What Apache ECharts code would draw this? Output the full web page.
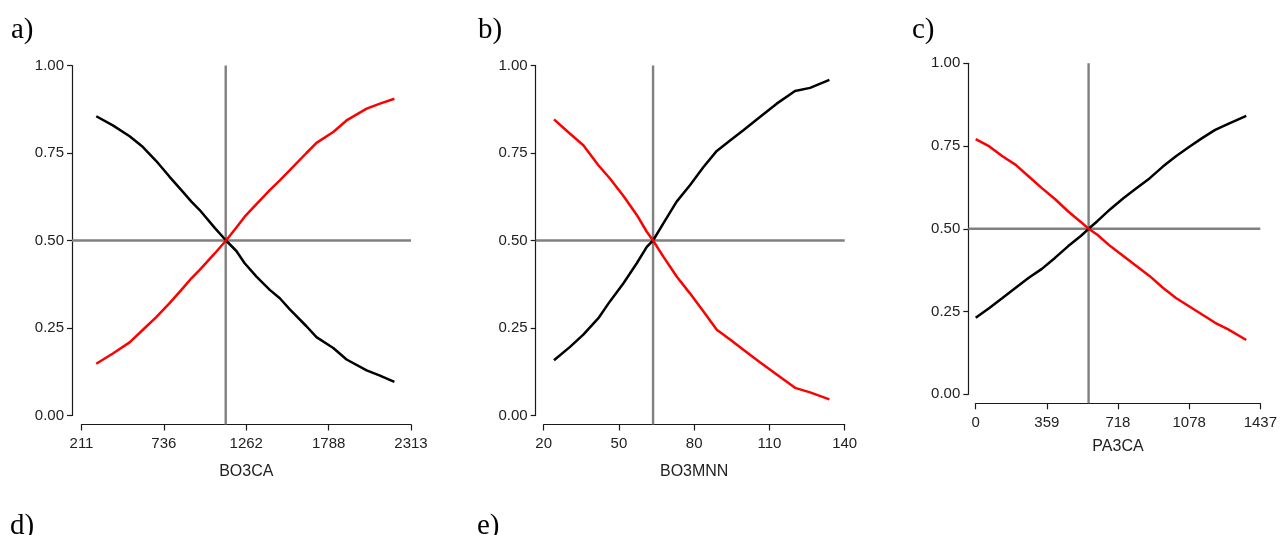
<!DOCTYPE html>
<html>
<head>
<meta charset="utf-8">
<script src="https://cdn.jsdelivr.net/npm/echarts@6/dist/echarts.min.js"></script>
<style>
html,body{margin:0;padding:0;background:#fff;}
#chart{width:1280px;height:535px;}
</style>
</head>
<body>
<div id="chart"></div>
<script>
// ---------- data ----------
const PANEL_LABELS = ['a)', 'b)', 'c)', 'd)', 'e)'];
const AXIS_NAMES = ['BO3CA', 'BO3MNN', 'PA3CA'];

const A_X_TICKS = [211, 736, 1262, 1788, 2313];
const B_X_TICKS = [20, 50, 80, 110, 140];
const C_X_TICKS = [0, 359, 718, 1078, 1437];
const Y_TICKS = [0, 0.25, 0.5, 0.75, 1];

const A_X = [305, 411, 518, 603, 688, 773, 858, 912, 965, 1061, 1133, 1199, 1252, 1327, 1412, 1476, 1540, 1646, 1710, 1817, 1902, 2030, 2115, 2207];
const A_BLACK = [0.855, 0.829, 0.798, 0.767, 0.727, 0.682, 0.639, 0.611, 0.587, 0.536, 0.500, 0.470, 0.435, 0.397, 0.359, 0.335, 0.303, 0.255, 0.224, 0.193, 0.160, 0.129, 0.114, 0.096];
const A_RED = [0.148, 0.177, 0.209, 0.245, 0.281, 0.321, 0.364, 0.392, 0.416, 0.463, 0.500, 0.537, 0.568, 0.604, 0.644, 0.672, 0.701, 0.750, 0.779, 0.810, 0.843, 0.877, 0.891, 0.905];

const B_X = [24.1, 30.5, 35.8, 41.8, 46.4, 51.8, 57.1, 61.1, 63.6, 67.7, 73.0, 78.3, 83.7, 89.0, 94.3, 99.6, 106.2, 112.9, 120.2, 126.2, 133.9];
const B_BLACK = [0.158, 0.196, 0.231, 0.278, 0.326, 0.378, 0.435, 0.482, 0.500, 0.549, 0.611, 0.658, 0.710, 0.756, 0.786, 0.815, 0.853, 0.891, 0.927, 0.936, 0.959];
const B_RED = [0.846, 0.805, 0.772, 0.715, 0.677, 0.627, 0.573, 0.525, 0.500, 0.454, 0.397, 0.349, 0.297, 0.245, 0.217, 0.188, 0.152, 0.117, 0.079, 0.066, 0.046];

const C_X = [0, 69, 135, 202, 268, 334, 400, 466, 532, 570, 614, 681, 747, 813, 879, 945, 1011, 1077, 1143, 1209, 1275, 1366];
const C_BLACK = [0.231, 0.261, 0.291, 0.322, 0.352, 0.379, 0.412, 0.447, 0.479, 0.500, 0.523, 0.560, 0.593, 0.623, 0.653, 0.688, 0.719, 0.747, 0.774, 0.799, 0.817, 0.841];
const C_RED = [0.771, 0.749, 0.719, 0.693, 0.658, 0.623, 0.590, 0.553, 0.520, 0.500, 0.482, 0.447, 0.417, 0.387, 0.357, 0.322, 0.291, 0.266, 0.241, 0.216, 0.196, 0.164];

const CUT_X = [1131, 63.6, 570];
const CUT_Y = 0.5;

// ---------- layout ----------
const LAYOUT = [
  {left: 81.5, top: 65.5, width: 329.5, height: 350, yOff: 9.5, xOff: 9, nameGap: 39},
  {left: 543.7, top: 65.5, width: 301, height: 350, yOff: 8, xOff: 9, nameGap: 39},
  {left: 975.7, top: 63.3, width: 291, height: 331, yOff: 7.4, xOff: 9, nameGap: 35}
];
const LABEL_POS = [
  {left: 11, top: 16}, {left: 478, top: 16}, {left: 912, top: 16},
  {left: 10, top: 512}, {left: 477, top: 512}
];

const panels = [
  {x: A_X, black: A_BLACK, red: A_RED, ticks: A_X_TICKS},
  {x: B_X, black: B_BLACK, red: B_RED, ticks: B_X_TICKS},
  {x: C_X, black: C_BLACK, red: C_RED, ticks: C_X_TICKS}
];

const FONT = 'Liberation Sans, Arial, sans-serif';
const zip = (xs, ys) => xs.map((v, i) => [v, ys[i]]);

const grid = [], xAxis = [], yAxis = [], series = [];
panels.forEach((p, i) => {
  const L = LAYOUT[i];
  grid.push({left: L.left, top: L.top, width: L.width, height: L.height, containLabel: false});
  xAxis.push({
    type: 'value', gridIndex: i,
    min: p.ticks[0], max: p.ticks[p.ticks.length - 1],
    offset: L.xOff,
    name: AXIS_NAMES[i], nameLocation: 'middle', nameGap: L.nameGap,
    nameTextStyle: {fontSize: 16, color: '#222', fontFamily: FONT},
    axisLine: {show: true, onZero: false, lineStyle: {color: '#1a1a1a', width: 1.2}},
    axisTick: {show: true, length: 6, lineStyle: {color: '#1a1a1a', width: 1.2}, customValues: p.ticks},
    axisLabel: {fontSize: 15, color: '#222', fontFamily: FONT, margin: 12, customValues: p.ticks,
      formatter: v => String(v)},
    splitLine: {show: false}
  });
  yAxis.push({
    type: 'value', gridIndex: i, min: 0, max: 1, interval: 0.25,
    offset: L.yOff,
    axisLine: {show: true, onZero: false, lineStyle: {color: '#1a1a1a', width: 1.2}},
    axisTick: {show: true, length: 5, lineStyle: {color: '#1a1a1a', width: 1.2}, customValues: Y_TICKS},
    axisLabel: {fontSize: 15, color: '#222', fontFamily: FONT, margin: 8, customValues: Y_TICKS,
      formatter: v => v.toFixed(2)},
    splitLine: {show: false}
  });
  series.push({
    type: 'line', xAxisIndex: i, yAxisIndex: i, data: zip(p.x, p.black),
    showSymbol: false, symbol: 'none', z: 3,
    lineStyle: {color: '#000000', width: 2.5}
  });
  series.push({
    type: 'line', xAxisIndex: i, yAxisIndex: i, data: zip(p.x, p.red),
    showSymbol: false, symbol: 'none', z: 4,
    lineStyle: {color: '#ff0000', width: 2.5}
  });
});

const title = PANEL_LABELS.map((t, i) => ({
  text: t, left: LABEL_POS[i].left, top: LABEL_POS[i].top, padding: 0,
  textStyle: {fontFamily: 'Liberation Serif, Times New Roman, serif', fontSize: 29, fontWeight: 'normal', color: '#000'}
}));

const chart = echarts.init(document.getElementById('chart'), null, {renderer: 'canvas'});
chart.setOption({animation: false, backgroundColor: '#fff', title, grid, xAxis, yAxis, series});

// reference lines through the library's scales
const elements = [];
panels.forEach((p, i) => {
  const L = LAYOUT[i];
  const xmin = p.ticks[0], xmax = p.ticks[p.ticks.length - 1];
  const h0 = chart.convertToPixel({gridIndex: i}, [xmin, CUT_Y]);
  const h1 = chart.convertToPixel({gridIndex: i}, [xmax, CUT_Y]);
  const v0 = chart.convertToPixel({gridIndex: i}, [CUT_X[i], 1]);
  const v1 = chart.convertToPixel({gridIndex: i}, [CUT_X[i], 0]);
  elements.push({type: 'line', z: 1, silent: true,
    shape: {x1: h0[0] - L.yOff, y1: h0[1], x2: h1[0], y2: h1[1]},
    style: {stroke: '#808080', lineWidth: 2.4}});
  elements.push({type: 'line', z: 1, silent: true,
    shape: {x1: v0[0], y1: v0[1], x2: v1[0], y2: v1[1] + L.xOff},
    style: {stroke: '#808080', lineWidth: 2.4}});
});
chart.setOption({graphic: {elements}});
</script>
</body>
</html>
